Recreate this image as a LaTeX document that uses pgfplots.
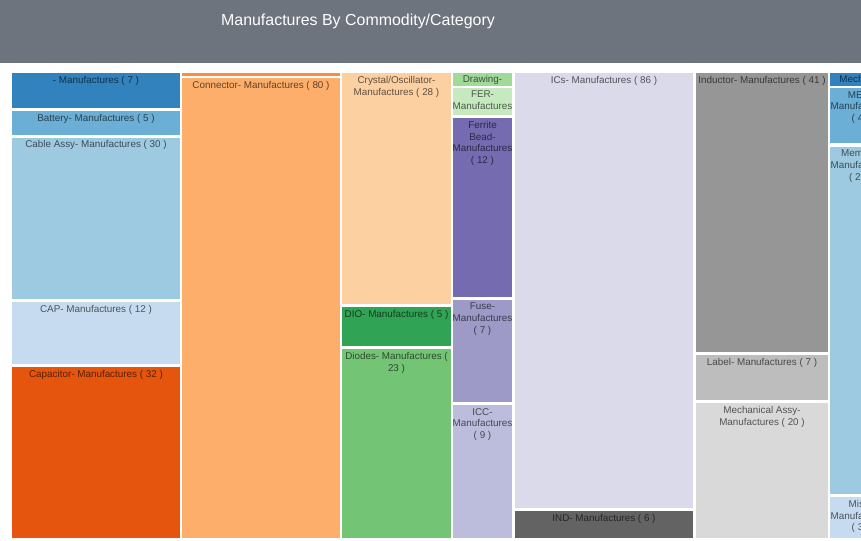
\documentclass[border=0pt]{standalone}
\usepackage{fontspec}
\setmainfont{Liberation Sans}
\usepackage{pgfplots}
\pgfplotsset{compat=1.18}

% d3 category20c colours
\definecolor{c01}{HTML}{3182BD}
\definecolor{c02}{HTML}{6BAED6}
\definecolor{c03}{HTML}{9ECAE1}
\definecolor{c04}{HTML}{C6DBEF}
\definecolor{c05}{HTML}{E6550D}
\definecolor{c06}{HTML}{FD8D3C}
\definecolor{c07}{HTML}{FDAE6B}
\definecolor{c08}{HTML}{FDD0A2}
\definecolor{c09}{HTML}{31A354}
\definecolor{c10}{HTML}{74C476}
\definecolor{c11}{HTML}{A1D99B}
\definecolor{c12}{HTML}{C7E9C0}
\definecolor{c13}{HTML}{756BB1}
\definecolor{c14}{HTML}{9E9AC8}
\definecolor{c15}{HTML}{BCBDDC}
\definecolor{c16}{HTML}{DADAEB}
\definecolor{c17}{HTML}{636363}
\definecolor{c18}{HTML}{969696}
\definecolor{c19}{HTML}{BDBDBD}
\definecolor{c20}{HTML}{D9D9D9}
\definecolor{header}{HTML}{6E747D}

\tikzset{lab/.style={anchor=north, inner sep=0pt, align=center, text=black,
  text opacity=0.62, font=\fontsize{9.9}{11.8}\selectfont}}

% one treemap cell: x0, x1, y0, y1, colour
\newcommand{\cell}[5]{\addplot[fill=#5, draw=none] coordinates {(#1,#3) (#2,#3) (#2,#4) (#1,#4)} -- cycle;}

\begin{document}
\begin{tikzpicture}
\begin{axis}[
    scale only axis, width=861bp, height=541bp,
    xmin=0, xmax=861, ymin=0, ymax=541,
    y dir=reverse, hide axis, clip=true,
  ]
\cell{0}{861}{0}{541}{white}
\cell{0}{861}{0}{63}{header}
% column 1
\cell{12}{180}{73}{108}{c01}
\cell{12}{180}{111}{135}{c02}
\cell{12}{180}{138}{299}{c03}
\cell{12}{180}{302}{364}{c04}
\cell{12}{180}{367}{538}{c05}
% column 2
\cell{182}{340}{73}{76}{c06}
\cell{182}{340}{78}{538}{c07}
% column 3
\cell{342}{451}{73}{304}{c08}
\cell{342}{451}{307}{346}{c09}
\cell{342}{451}{349}{538}{c10}
% column 4
\cell{453}{512}{73}{86}{c11}
\cell{453}{512}{88}{115}{c12}
\cell{453}{512}{118}{297}{c13}
\cell{453}{512}{300}{402}{c14}
\cell{453}{512}{405}{538}{c15}
% column 5
\cell{515}{693}{73}{508}{c16}
\cell{515}{693}{511}{538}{c17}
% column 6
\cell{696}{828}{73}{352}{c18}
\cell{696}{828}{355}{400}{c19}
\cell{696}{828}{403}{538}{c20}
% column 7 (runs past the right edge, as in the source)
\cell{830}{891}{73}{86}{c01}
\cell{830}{891}{88}{143}{c02}
\cell{830}{891}{147}{494}{c03}
\cell{830}{891}{497}{538}{c04}

\node[anchor=center, text=white, font=\fontsize{16}{19}\selectfont] at (axis cs:358,21) {Manufactures By Commodity/Category};

\node[lab] at (axis cs:96,76) {- Manufactures ( 7 )};
\node[lab] at (axis cs:96,114) {Battery- Manufactures ( 5 )};
\node[lab] at (axis cs:96,140) {Cable Assy- Manufactures ( 30 )};
\node[lab] at (axis cs:96,305) {CAP- Manufactures ( 12 )};
\node[lab] at (axis cs:96,370) {Capacitor- Manufactures ( 32 )};
\node[lab] at (axis cs:261,81) {Connector- Manufactures ( 80 )};
\node[lab] at (axis cs:396.5,76) {Crystal/Oscillator-\\Manufactures ( 28 )};
\node[lab] at (axis cs:396.5,310) {DIO- Manufactures ( 5 )};
\node[lab] at (axis cs:396.5,352) {Diodes- Manufactures (\\23 )};
\node[lab] at (axis cs:482.5,75.5) {Drawing-};
\node[lab] at (axis cs:482.5,91) {FER-\\Manufactures};
\node[lab] at (axis cs:482.5,121) {Ferrite\\Bead-\\Manufactures\\( 12 )};
\node[lab] at (axis cs:482.5,303) {Fuse-\\Manufactures\\( 7 )};
\node[lab] at (axis cs:482.5,408) {ICC-\\Manufactures\\( 9 )};
\node[lab] at (axis cs:604,76) {ICs- Manufactures ( 86 )};
\node[lab] at (axis cs:604,514) {IND- Manufactures ( 6 )};
\node[lab] at (axis cs:762,76) {Inductor- Manufactures ( 41 )};
\node[lab] at (axis cs:762,358) {Label- Manufactures ( 7 )};
\node[lab] at (axis cs:762,406) {Mechanical Assy-\\Manufactures ( 20 )};
\node[lab] at (axis cs:866,75.5) {Mechanical-};
\node[lab] at (axis cs:860.5,91) {MEC-\\Manufactures\\( 4 )};
\node[lab] at (axis cs:860.5,150) {Memory-\\Manufactures\\( 23 )};
\node[lab] at (axis cs:860.5,500) {Misc-\\Manufactures\\( 3 )};
\end{axis}
\pgfresetboundingbox
\useasboundingbox (current axis.south west) rectangle (current axis.north east);
\end{tikzpicture}
\end{document}
